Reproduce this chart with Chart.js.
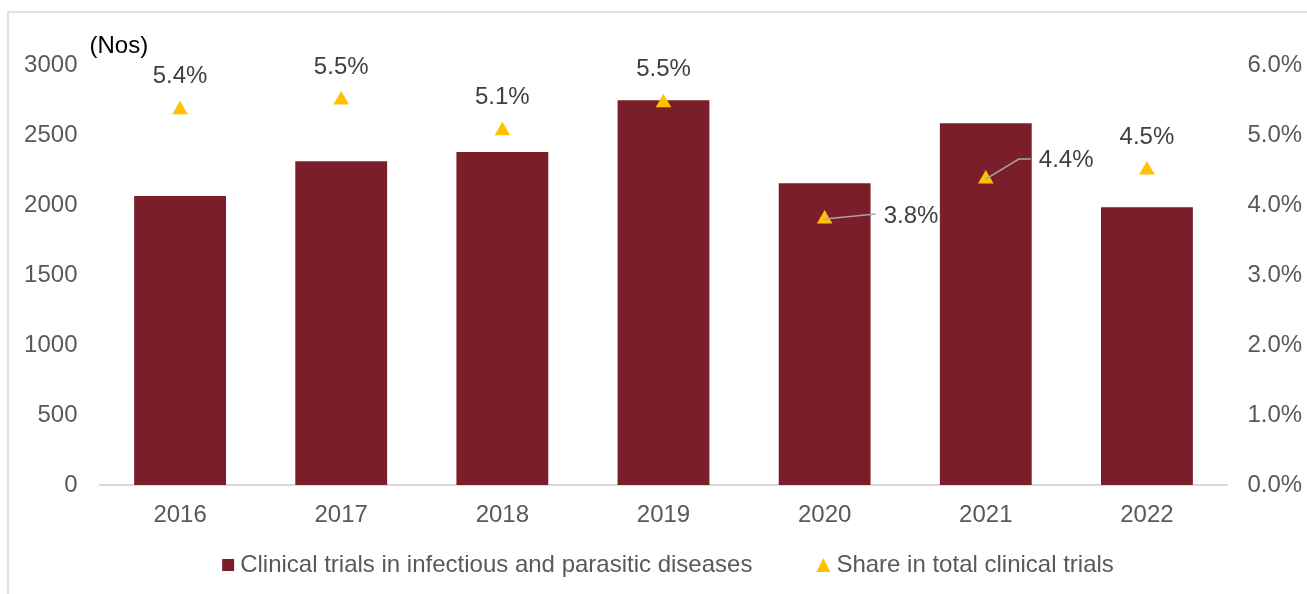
<!DOCTYPE html>
<html>
<head>
<meta charset="utf-8">
<script src="https://cdn.jsdelivr.net/npm/chart.js@4/dist/chart.umd.min.js"></script>
<style>
  html, body { margin: 0; padding: 0; background: #ffffff; }
  #wrap { position: relative; width: 1307px; height: 594px; }
  canvas { display: block; }
</style>
</head>
<body>
<div id="wrap"><canvas id="c" width="1307" height="594"></canvas></div>
<script>
// ---- data ----
const years = ['2016', '2017', '2018', '2019', '2020', '2021', '2022'];
const trialCounts = [2065, 2313, 2378, 2748, 2155, 2584, 1984];
const sharePct = [5.36, 5.50, 5.06, 5.46, 3.80, 4.37, 4.50];
const leftTicks = [0, 500, 1000, 1500, 2000, 2500, 3000];
const rightTicks = [0, 1, 2, 3, 4, 5, 6];
const barLabel = 'Clinical trials in infectious and parasitic diseases';
const shareLabel = 'Share in total clinical trials';
const unitLabel = '(Nos)';

// ---- style ----
const FONT = "'Liberation Sans', Arial, sans-serif";
const FS = 24;
const BAR_COLOR = '#7A1E2A';
const TRI_COLOR = '#FFC000';
const TICK_COLOR = '#595959';
const LABEL_COLOR = '#404040';
// label placement per point: 'above', or leader-line variants
const labelPlacement = ['above', 'above', 'above', 'above', 'right', 'rightUp', 'above'];

const decorPlugin = {
  id: 'decor',
  beforeDraw(chart) {
    const ctx = chart.ctx;
    ctx.save();
    ctx.strokeStyle = '#D9D9D9';
    ctx.lineWidth = 1.5;
    ctx.beginPath();
    ctx.moveTo(8, chart.height);
    ctx.lineTo(8, 12);
    ctx.lineTo(chart.width, 12);
    ctx.stroke();
    ctx.restore();
  },
  afterDatasetsDraw(chart) {
    const ctx = chart.ctx;
    const meta = chart.getDatasetMeta(1);
    ctx.save();
    ctx.font = FS + 'px ' + FONT;
    ctx.fillStyle = LABEL_COLOR;
    ctx.strokeStyle = '#A6A6A6';
    ctx.lineWidth = 1.5;
    meta.data.forEach((pt, i) => {
      const txt = sharePct[i].toFixed(1) + '%';
      const p = labelPlacement[i];
      if (p === 'above') {
        ctx.textAlign = 'center';
        ctx.textBaseline = 'middle';
        ctx.fillText(txt, pt.x, pt.y - 33);
      } else if (p === 'right') {
        ctx.beginPath();
        ctx.moveTo(pt.x, pt.y);
        ctx.lineTo(pt.x + 51, pt.y - 5);
        ctx.stroke();
        ctx.textAlign = 'left';
        ctx.textBaseline = 'middle';
        ctx.fillText(txt, pt.x + 59, pt.y - 3);
      } else {
        ctx.beginPath();
        ctx.moveTo(pt.x, pt.y);
        ctx.lineTo(pt.x + 33, pt.y - 20);
        ctx.lineTo(pt.x + 45, pt.y - 20);
        ctx.stroke();
        ctx.textAlign = 'left';
        ctx.textBaseline = 'middle';
        ctx.fillText(txt, pt.x + 53, pt.y - 19);
      }
    });
    ctx.restore();
  },
  afterDraw(chart) {
    const ctx = chart.ctx;
    const ca = chart.chartArea;
    ctx.save();
    // unit label
    ctx.font = FS + 'px ' + FONT;
    ctx.fillStyle = '#000000';
    ctx.textAlign = 'left';
    ctx.textBaseline = 'middle';
    ctx.fillText(unitLabel, ca.left - 10, 46);

    // legend
    ctx.font = FS + 'px ' + FONT;
    const w1 = ctx.measureText(barLabel).width;
    const w2 = ctx.measureText(shareLabel).width;
    const box = 12, gapBoxText = 6, gapItems = 64, tri = 14;
    const total = box + gapBoxText + w1 + gapItems + tri + gapBoxText + w2;
    let x = 668 - total / 2;
    const y = 565;
    ctx.fillStyle = BAR_COLOR;
    ctx.fillRect(x, y - 6, box, box);
    x += box + gapBoxText;
    ctx.fillStyle = TICK_COLOR;
    ctx.fillText(barLabel, x, y);
    x += w1 + gapItems;
    ctx.fillStyle = TRI_COLOR;
    ctx.beginPath();
    ctx.moveTo(x + tri / 2, y - 7);
    ctx.lineTo(x + tri, y + 7);
    ctx.lineTo(x, y + 7);
    ctx.closePath();
    ctx.fill();
    x += tri + gapBoxText;
    ctx.fillStyle = TICK_COLOR;
    ctx.fillText(shareLabel, x, y);
    ctx.restore();
  }
};

new Chart(document.getElementById('c'), {
  data: {
    labels: years,
    datasets: [
      {
        type: 'bar',
        label: barLabel,
        data: trialCounts,
        backgroundColor: BAR_COLOR,
        borderWidth: 0,
        barPercentage: 0.57,
        categoryPercentage: 1.0,
        yAxisID: 'y',
        order: 2
      },
      {
        type: 'line',
        label: shareLabel,
        data: sharePct,
        showLine: false,
        pointStyle: 'triangle',
        pointRadius: 9,
        pointHoverRadius: 9,
        pointBackgroundColor: TRI_COLOR,
        pointBorderColor: TRI_COLOR,
        pointBorderWidth: 0,
        yAxisID: 'y1',
        order: 1
      }
    ]
  },
  options: {
    responsive: false,
    animation: false,
    devicePixelRatio: 1,
    layout: { padding: { left: 0, right: 0, top: 65, bottom: 49 } },
    plugins: {
      legend: { display: false },
      tooltip: { enabled: false }
    },
    scales: {
      x: {
        grid: { display: false, drawTicks: false },
        border: { display: true, color: '#D9D9D9', width: 2 },
        ticks: { color: TICK_COLOR, font: { family: FONT, size: FS }, padding: 16 },
        afterFit(s) { s.height = 60; }
      },
      y: {
        position: 'left',
        min: leftTicks[0],
        max: leftTicks[leftTicks.length - 1],
        grid: { display: false, drawTicks: false },
        border: { display: false },
        afterBuildTicks(s) { s.ticks = leftTicks.map(v => ({ value: v })); },
        ticks: {
          color: TICK_COLOR,
          font: { family: FONT, size: FS },
          padding: 22,
          callback: v => String(v)
        },
        afterFit(s) { s.width = 99.5; }
      },
      y1: {
        position: 'right',
        min: rightTicks[0],
        max: rightTicks[rightTicks.length - 1],
        grid: { display: false, drawTicks: false },
        border: { display: false },
        afterBuildTicks(s) { s.ticks = rightTicks.map(v => ({ value: v })); },
        ticks: {
          color: TICK_COLOR,
          font: { family: FONT, size: FS },
          padding: 20,
          callback: v => Number(v).toFixed(1) + '%'
        },
        afterFit(s) { s.width = 79.5; }
      }
    }
  },
  plugins: [decorPlugin]
});
</script>
</body>
</html>
